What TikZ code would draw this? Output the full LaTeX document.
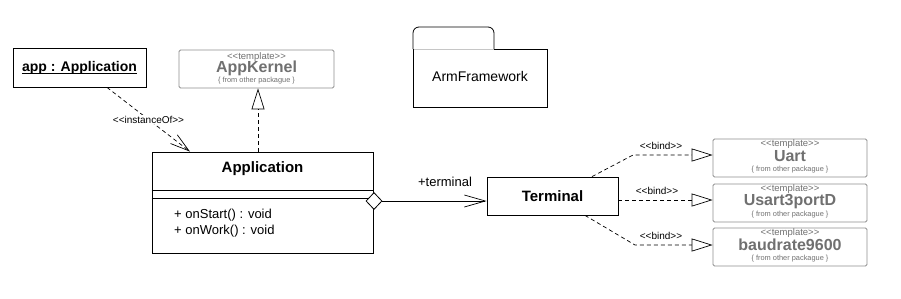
\documentclass[tikz,border=0pt]{standalone}
\usepackage{fontspec}
\setmainfont{Liberation Sans}
\usetikzlibrary{arrows.meta,calc,shapes.geometric}
\newcommand\fsz[1]{\fontsize{#1}{#1}\selectfont}
\newcommand\stl{<\kern0pt<}
\newcommand\str{>\kern0pt>}
\definecolor{tgray}{HTML}{707070}
\definecolor{bgray}{HTML}{8E8E8E}
\begin{document}
\begin{tikzpicture}[x=1pt,y=-1pt,
 box/.style={draw, line width=0.8pt, fill=white, inner sep=0pt, rectangle},
 tbox/.style={draw=bgray, line width=0.8pt, rounded corners=1.5pt, inner sep=0pt, minimum width=154pt, minimum height=38pt},
 stereo/.style={text=tgray, font=\fsz{9.5}, inner sep=0pt},
 tname/.style={text=tgray, font=\fsz{16}\bfseries, inner sep=0pt},
 tfrom/.style={text=tgray, font=\fsz{7.4}, inner sep=0pt},
 lbl/.style={font=\fsz{10}, inner sep=1pt},
 dep/.style={dash pattern=on 4pt off 3pt, line width=0.7pt},
 openarr/.style={-{Straight Barb[length=19pt,width=11pt,line width=0.7pt]}},
 realize/.style={-{Triangle[open,length=21pt,width=13pt,line width=0.7pt]}},
]
\useasboundingbox (0,0) rectangle (901,298);

% object app
\node[box, minimum width=133pt, minimum height=39pt] (obj) at (79.5,67.5) {};
\node[font=\fsz{14}\bfseries, inner sep=0pt] (objlbl) at (obj.center) {app : Application};
\draw[line width=0.8pt] ([yshift=-1.8pt]objlbl.base west) -- ([yshift=-1.8pt]objlbl.base east);

% AppKernel template
\node[tbox, minimum width=155pt] (kern) at (256.5,69) {};
\node[stereo] (kerns) at ([yshift=-7pt]kern.north) {\stl template\str};
\node[tname] (kernn) at ([yshift=-19pt]kern.north) {AppKernel};
\node[tfrom] (kernf) at ([yshift=-30.5pt]kern.north) {\{ from other packague \}};

% Application class
\node[box, minimum width=221pt, minimum height=101pt] (appcls) at (262.5,202.5) {};
\node[font=\fsz{15}\bfseries, inner sep=0pt] (appt) at ([yshift=-17pt]appcls.north) {Application};
\draw[line width=0.8pt] ([yshift=-39pt]appcls.north west) -- ([yshift=-39pt]appcls.north east);
\draw[line width=0.8pt] ([yshift=-47pt]appcls.north west) -- ([yshift=-47pt]appcls.north east);
\node[font=\fsz{13}, inner sep=0pt, anchor=west] (m1) at (174,215) {+ onStart() : void};
\node[font=\fsz{13}, inner sep=0pt, anchor=west] (m2) at (174,231) {+ onWork() : void};

% Terminal
\node[box, minimum width=131pt, minimum height=38pt, font=\fsz{15}\bfseries] (term) at (552.5,196) {Terminal};

% package
\draw[line width=0.8pt, rounded corners=6pt] (413,49) -- (413,27) -- (494,27) -- (494,49);
\draw[line width=0.8pt] (413,49) -- (413,107) -- (547,107) -- (547,49) -- (494,49);
\draw[line width=0.6pt, gray!45] (413.5,49) -- (493.6,49);
\node[font=\fsz{14}, inner sep=0pt] (armfw) at (480,76) {ArmFramework};

% template boxes
\node[tbox] (uart) at (790,158) {};
\node[stereo] at ([yshift=-5.5pt]uart.north) {\stl template\str};
\node[tname] at ([yshift=-17.5pt]uart.north) {Uart};
\node[tfrom] at ([yshift=-31pt]uart.north) {\{ from other packague \}};

\node[tbox] (usart) at (790,203) {};
\node[stereo] at ([yshift=-5.5pt]usart.north) {\stl template\str};
\node[tname] at ([yshift=-17.5pt]usart.north) {Usart3portD};
\node[tfrom] at ([yshift=-30.5pt]usart.north) {\{ from other packague \}};

\node[tbox] (baud) at (790,247) {};
\node[stereo] at ([yshift=-5.5pt]baud.north) {\stl template\str};
\node[tname] at ([yshift=-17.5pt]baud.north) {baudrate9600};
\node[tfrom] at ([yshift=-31pt]baud.north) {\{ from other packague \}};

% instanceOf
\draw[dep, openarr] ([xshift=27.5pt]obj.south) -- node[lbl, fill=white, inner sep=0.5pt] {\stl instanceOf\str} ([xshift=-72.5pt]appcls.north);

% realization to AppKernel
\draw[dep, realize] ([xshift=-4.5pt]appcls.north) -- ([xshift=-4.5pt]appcls.north |- kern.south);

% aggregation
\node[diamond, draw, fill=white, line width=0.8pt, inner sep=0pt, minimum width=16pt, minimum height=17pt] (dia) at (374,201) {};
\draw[line width=0.8pt, -{Straight Barb[length=21pt,width=12pt,line width=0.7pt]}] (dia.east) -- (dia.east -| term.west);
\node[font=\fsz{13}, inner sep=0pt] (role) at (445,182) {+terminal};

% bind dependencies
\coordinate (ut) at ([yshift=3pt]uart.west);
\coordinate (st) at ([yshift=3pt]usart.west);
\coordinate (bt) at ([yshift=2pt]baud.west);
\coordinate (ubend) at (633,155);
\coordinate (bbend) at (635,245);
\draw[dep, realize] ([xshift=39.5pt]term.north) -- (ubend) -- (ut);
\draw[dep, realize] (term.east |- st) -- (st);
\draw[dep, realize] ([xshift=32.5pt]term.south) -- (bbend) -- (bt);
\node[lbl] at (661,146) {\stl bind\str};
\node[lbl] at (657,191) {\stl bind\str};
\node[lbl] at (661,236) {\stl bind\str};
\end{tikzpicture}
\end{document}
